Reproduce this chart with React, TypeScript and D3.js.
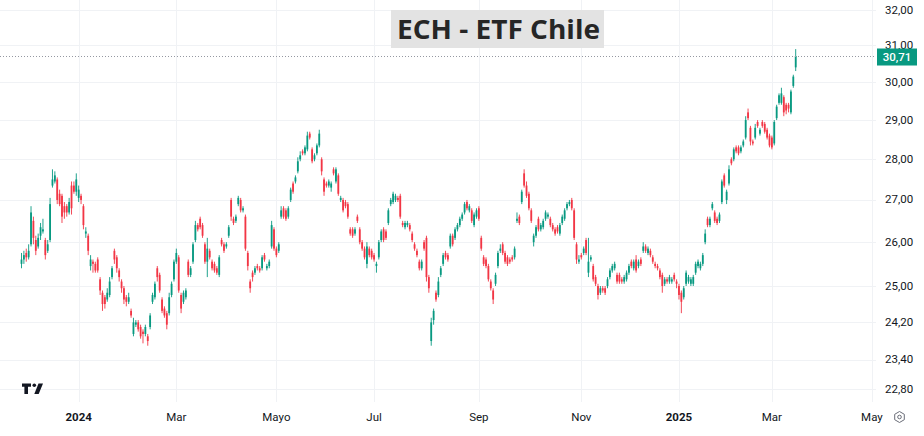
import React, { useRef, useEffect } from 'react';
import * as d3 from 'd3';

// daily candles [open, high, low, close], one array per month
const nov2023 = [
  [25.5, 25.75, 25.4, 25.6], [25.6, 25.8, 25.5, 25.7], [25.75, 25.85, 25.55, 25.65], [25.65, 25.95, 25.6, 25.8],
];
const dec2023 = [
  [25.95, 26.85, 25.9, 26.7], [26.5, 26.6, 25.95, 26.1], [26.05, 26.15, 25.7, 25.8], [25.9, 26.2, 25.85, 26.1],
  [26.15, 26.45, 26.05, 26.35], [26.25, 26.55, 26.2, 26.3], [26.05, 26.1, 25.6, 25.7], [25.8, 26.05, 25.75, 25.95],
  [26.05, 27.05, 26.0, 26.9], [27.35, 27.75, 27.3, 27.5], [27.45, 27.7, 27.4, 27.6], [27.5, 27.55, 26.9, 27.0],
  [27.15, 27.25, 26.85, 26.9], [27.1, 27.15, 26.45, 26.6], [26.85, 26.95, 26.55, 26.7], [26.85, 26.9, 26.6, 26.7],
  [26.7, 27.05, 26.65, 26.95], [27.35, 27.45, 26.65, 26.8], [27.35, 27.45, 27.15, 27.2], [27.2, 27.65, 27.1, 27.5],
];
const jan2024 = [
  [27.05, 27.35, 26.95, 27.25], [27.1, 27.15, 26.9, 27.0], [26.85, 26.9, 26.3, 26.4], [26.2, 26.35, 26.1, 26.25],
  [26.15, 26.2, 25.7, 25.8], [25.45, 25.7, 25.35, 25.6], [25.55, 25.6, 25.3, 25.5], [25.5, 25.55, 25.3, 25.35],
  [25.6, 25.65, 25.3, 25.35], [25.15, 25.2, 24.8, 24.9], [24.85, 24.9, 24.45, 24.6], [24.75, 24.8, 24.5, 24.6],
  [24.7, 24.95, 24.65, 24.85], [24.8, 25.2, 24.75, 25.1], [25.2, 25.45, 25.15, 25.4], [25.8, 25.85, 25.5, 25.6],
  [25.65, 25.7, 25.3, 25.4], [25.35, 25.4, 25.1, 25.2], [25.1, 25.15, 24.85, 24.95], [24.95, 25.0, 24.6, 24.7],
  [24.75, 24.8, 24.55, 24.65],
];
const feb2024 = [
  [24.65, 24.85, 24.6, 24.75], [24.45, 24.5, 24.3, 24.35], [23.95, 24.3, 23.9, 24.2], [24.15, 24.25, 24.1, 24.2],
  [24.2, 24.25, 24.0, 24.05], [24.1, 24.15, 23.85, 23.9], [24.0, 24.05, 23.75, 23.95], [23.95, 24.15, 23.9, 24.1],
  [23.9, 23.95, 23.7, 23.8], [24.1, 24.4, 24.05, 24.35], [24.65, 24.85, 24.6, 24.8], [24.75, 25.1, 24.7, 25.05],
  [25.4, 25.45, 25.1, 25.2], [25.25, 25.3, 24.85, 24.9], [24.7, 24.75, 24.4, 24.45], [24.5, 24.55, 24.3, 24.35],
  [24.4, 24.45, 24.05, 24.15], [24.4, 24.85, 24.35, 24.75], [24.8, 25.1, 24.75, 25.05], [25.15, 25.6, 25.1, 25.55],
];
const mar2024 = [
  [25.55, 25.85, 25.5, 25.75], [25.65, 25.7, 24.85, 24.9], [24.8, 24.85, 24.4, 24.5], [24.65, 24.9, 24.6, 24.85],
  [24.75, 24.95, 24.7, 24.9], [25.55, 25.6, 25.2, 25.25], [25.25, 25.45, 25.2, 25.4], [25.55, 26.0, 25.5, 25.95],
  [26.05, 26.5, 26.0, 26.4], [26.4, 26.45, 26.25, 26.3], [26.55, 26.6, 26.3, 26.35], [26.4, 26.45, 26.1, 26.15],
  [25.95, 26.0, 25.5, 25.55], [25.55, 26.1, 25.2, 25.85], [25.8, 25.85, 25.6, 25.65], [25.55, 25.6, 25.35, 25.4],
  [25.5, 25.55, 25.3, 25.35], [25.4, 25.45, 25.25, 25.3], [25.25, 25.7, 25.2, 25.65], [26.05, 26.1, 25.9, 25.95],
];
const apr2024 = [
  [25.95, 26.0, 25.75, 25.8], [25.9, 26.0, 25.85, 25.95], [26.15, 26.4, 26.1, 26.35], [27.0, 27.05, 26.5, 26.6],
  [26.55, 26.6, 26.4, 26.45], [26.5, 26.65, 26.45, 26.6], [26.9, 27.1, 26.85, 27.05], [27.0, 27.05, 26.7, 26.75],
  [26.75, 26.85, 26.7, 26.8], [26.6, 26.65, 25.8, 25.85], [25.75, 25.8, 25.35, 25.45], [25.1, 25.15, 24.85, 24.95],
  [25.3, 25.35, 25.1, 25.2], [25.3, 25.45, 25.25, 25.4], [25.45, 25.5, 25.35, 25.4], [25.4, 25.45, 25.3, 25.35],
  [25.4, 25.7, 25.35, 25.65], [25.7, 25.75, 25.55, 25.6], [25.4, 25.5, 25.35, 25.45], [25.45, 25.6, 25.4, 25.55],
  [25.9, 26.5, 25.85, 26.4], [26.3, 26.35, 25.8, 25.85],
];
const may2024 = [
  [25.85, 25.9, 25.65, 25.7], [25.8, 26.0, 25.75, 25.95], [26.6, 26.85, 26.55, 26.75], [26.8, 26.85, 26.55, 26.6],
  [26.75, 26.8, 26.5, 26.55], [26.6, 26.85, 26.55, 26.8], [27.0, 27.3, 26.95, 27.25], [27.4, 27.45, 27.15, 27.2],
  [27.45, 27.6, 27.4, 27.55], [27.7, 28.05, 27.65, 27.95], [28.0, 28.2, 27.95, 28.1], [28.2, 28.25, 28.1, 28.15],
  [28.15, 28.35, 28.1, 28.3], [28.25, 28.7, 28.2, 28.6], [28.65, 28.7, 28.5, 28.55], [28.25, 28.3, 27.9, 27.95],
  [28.0, 28.15, 27.95, 28.1], [28.15, 28.4, 28.1, 28.35], [28.35, 28.75, 28.3, 28.65], [28.0, 28.05, 27.6, 27.7],
  [27.5, 27.55, 27.1, 27.2], [27.4, 27.45, 27.3, 27.35],
];
const jun2024 = [
  [27.35, 27.5, 27.3, 27.45], [27.3, 27.45, 27.2, 27.4], [27.75, 27.8, 27.6, 27.65], [27.45, 27.8, 27.4, 27.75],
  [27.6, 27.65, 27.1, 27.15], [27.0, 27.1, 26.95, 27.05], [27.0, 27.05, 26.7, 26.75], [26.95, 27.0, 26.8, 26.85],
  [26.9, 26.95, 26.55, 26.6], [26.3, 26.35, 26.15, 26.2], [26.3, 26.35, 26.1, 26.15], [26.2, 26.35, 26.15, 26.3],
  [26.6, 26.65, 26.45, 26.5], [26.3, 26.35, 25.95, 26.0], [26.0, 26.05, 25.8, 25.85], [25.85, 25.9, 25.6, 25.65],
  [25.5, 26.0, 25.4, 25.9], [25.85, 25.9, 25.65, 25.7], [25.8, 25.85, 25.6, 25.65],
];
const jul2024 = [
  [25.7, 25.75, 25.55, 25.6], [25.45, 25.55, 25.3, 25.5], [25.65, 26.05, 25.6, 26.0], [26.05, 26.3, 26.0, 26.25],
  [26.3, 26.35, 26.0, 26.05], [26.25, 26.3, 26.05, 26.1], [26.45, 26.8, 26.4, 26.75], [26.9, 27.05, 26.85, 27.0],
  [26.95, 27.2, 26.9, 27.15], [27.0, 27.15, 26.95, 27.1], [27.05, 27.1, 26.95, 27.0], [27.1, 27.15, 26.55, 26.6],
  [26.45, 26.5, 26.35, 26.4], [26.35, 26.5, 26.3, 26.45], [26.4, 26.5, 26.35, 26.45], [26.4, 26.45, 26.25, 26.3],
  [26.2, 26.25, 26.0, 26.05], [25.95, 26.0, 25.8, 25.85], [25.8, 25.85, 25.65, 25.7], [25.55, 25.6, 25.35, 25.4],
  [25.4, 25.6, 25.35, 25.55], [26.0, 26.05, 25.8, 25.85],
];
const aug2024 = [
  [26.1, 26.15, 25.1, 25.2], [25.2, 25.25, 24.85, 24.95], [23.8, 24.3, 23.7, 24.2], [24.25, 24.5, 24.15, 24.45],
  [24.85, 24.9, 24.65, 24.7], [24.8, 25.2, 24.75, 25.1], [25.25, 25.45, 25.2, 25.4], [25.5, 25.75, 25.45, 25.7],
  [25.75, 25.8, 25.6, 25.65], [25.7, 25.75, 25.55, 25.6], [25.9, 26.2, 25.85, 26.15], [26.15, 26.2, 25.9, 25.95],
  [26.1, 26.35, 26.05, 26.3], [26.3, 26.45, 26.25, 26.4], [26.4, 26.6, 26.35, 26.55], [26.55, 26.7, 26.5, 26.65],
  [26.7, 26.95, 26.65, 26.9], [26.95, 27.0, 26.75, 26.8], [26.75, 26.9, 26.7, 26.85], [26.75, 26.8, 26.45, 26.5],
  [26.4, 26.7, 26.35, 26.65], [26.6, 26.8, 26.55, 26.75],
];
const sep2024 = [
  [26.8, 26.85, 26.5, 26.55], [26.1, 26.15, 25.8, 25.85], [25.65, 25.7, 25.45, 25.5], [25.6, 25.65, 25.4, 25.45],
  [25.45, 25.5, 25.1, 25.15], [25.1, 25.15, 24.9, 24.95], [24.9, 24.95, 24.6, 24.7], [25.05, 25.3, 25.0, 25.25],
  [25.45, 25.8, 25.4, 25.75], [25.8, 25.95, 25.75, 25.85], [25.95, 26.0, 25.7, 25.75], [25.75, 25.8, 25.5, 25.55],
  [25.65, 25.7, 25.45, 25.5], [25.6, 25.65, 25.5, 25.55], [25.65, 25.7, 25.55, 25.6], [25.65, 25.9, 25.6, 25.85],
  [26.5, 26.7, 26.45, 26.55], [26.6, 26.65, 26.4, 26.45], [26.95, 27.25, 26.9, 27.2], [27.65, 27.75, 27.3, 27.35],
];
const oct2024 = [
  [27.35, 27.45, 27.05, 27.1], [27.15, 27.2, 26.75, 26.8], [26.75, 26.8, 26.45, 26.5], [26.0, 26.2, 25.9, 26.15],
  [26.15, 26.4, 26.1, 26.35], [26.55, 26.6, 26.25, 26.3], [26.3, 26.45, 26.25, 26.4], [26.35, 26.55, 26.3, 26.5],
  [26.55, 26.75, 26.5, 26.7], [26.6, 26.7, 26.55, 26.65], [26.55, 26.6, 26.35, 26.4], [26.4, 26.45, 26.25, 26.3],
  [26.3, 26.35, 26.15, 26.2], [26.35, 26.4, 26.2, 26.25], [26.2, 26.45, 26.15, 26.4], [26.45, 26.65, 26.4, 26.6],
  [26.55, 26.8, 26.5, 26.75], [26.8, 26.95, 26.75, 26.9], [26.9, 27.0, 26.85, 26.95], [27.0, 27.05, 26.75, 26.8],
  [26.75, 26.8, 26.05, 26.1], [25.95, 26.0, 25.5, 25.6], [25.55, 25.7, 25.5, 25.6],
];
const nov2024 = [
  [25.7, 25.75, 25.6, 25.65], [25.75, 25.9, 25.7, 25.85], [26.05, 26.1, 25.7, 25.75], [25.3, 26.1, 25.2, 25.55],
  [25.6, 25.7, 25.55, 25.65], [25.45, 25.5, 25.1, 25.15], [25.2, 25.25, 25.0, 25.05], [25.0, 25.05, 24.7, 24.8],
  [24.85, 25.0, 24.8, 24.95], [24.95, 25.0, 24.85, 24.9], [24.95, 25.0, 24.8, 24.85], [25.0, 25.2, 24.95, 25.15],
  [25.2, 25.4, 25.15, 25.35], [25.35, 25.5, 25.3, 25.45], [25.4, 25.55, 25.35, 25.5], [25.25, 25.3, 25.05, 25.1],
  [25.25, 25.3, 25.05, 25.1], [25.15, 25.2, 25.05, 25.1], [25.1, 25.25, 25.05, 25.2], [25.15, 25.35, 25.1, 25.3],
];
const dec2024 = [
  [25.3, 25.5, 25.25, 25.45], [25.55, 25.6, 25.4, 25.45], [25.4, 25.6, 25.35, 25.55], [25.6, 25.7, 25.3, 25.35],
  [25.45, 25.6, 25.4, 25.55], [25.6, 25.65, 25.45, 25.5], [25.8, 26.0, 25.75, 25.9], [25.9, 25.95, 25.75, 25.8],
  [25.75, 25.9, 25.7, 25.85], [25.8, 25.85, 25.65, 25.7], [25.65, 25.7, 25.5, 25.55], [25.5, 25.55, 25.4, 25.45],
  [25.45, 25.5, 25.35, 25.4], [25.35, 25.4, 25.15, 25.2], [25.25, 25.3, 24.85, 25.0], [25.05, 25.2, 25.0, 25.15],
  [25.15, 25.2, 25.05, 25.1], [25.1, 25.25, 25.05, 25.2], [25.1, 25.2, 25.05, 25.15], [25.25, 25.3, 25.1, 25.15],
  [25.1, 25.15, 24.95, 25.05],
];
const jan2025 = [
  [25.0, 25.05, 24.7, 24.8], [24.85, 24.9, 24.4, 24.65], [24.75, 25.0, 24.7, 24.95], [25.05, 25.35, 25.0, 25.3],
  [25.1, 25.25, 25.05, 25.2], [25.05, 25.2, 25.0, 25.15], [25.05, 25.25, 25.0, 25.2], [25.3, 25.55, 25.25, 25.5],
  [25.45, 25.6, 25.4, 25.55], [25.4, 25.55, 25.35, 25.5], [25.5, 25.75, 25.45, 25.7], [26.0, 26.3, 25.95, 26.2],
  [26.55, 26.6, 26.35, 26.4], [26.4, 26.6, 26.35, 26.55], [26.8, 26.95, 26.75, 26.9], [26.7, 26.75, 26.45, 26.5],
  [26.55, 26.6, 26.4, 26.45], [26.5, 26.7, 26.45, 26.65], [26.95, 27.5, 26.9, 27.45], [27.6, 27.65, 27.3, 27.35],
];
const feb2025 = [
  [27.0, 27.25, 26.9, 27.2], [27.4, 27.85, 27.35, 27.75], [28.0, 28.05, 27.85, 27.9], [28.0, 28.3, 27.95, 28.25],
  [28.3, 28.35, 28.15, 28.2], [28.3, 28.35, 28.1, 28.15], [28.2, 28.35, 28.15, 28.3], [28.35, 28.5, 28.3, 28.45],
  [28.55, 29.1, 28.5, 29.0], [29.2, 29.3, 29.0, 29.05], [28.8, 28.85, 28.35, 28.45], [28.45, 28.5, 28.35, 28.4],
  [28.55, 28.9, 28.5, 28.8], [28.95, 29.0, 28.8, 28.85], [28.65, 28.8, 28.6, 28.75], [28.95, 29.0, 28.8, 28.85],
  [28.9, 28.95, 28.65, 28.7], [28.75, 28.8, 28.5, 28.55], [28.6, 28.65, 28.3, 28.35],
];
const mar2025 = [
  [28.55, 28.6, 28.25, 28.3], [28.4, 29.0, 28.35, 28.95], [29.05, 29.4, 29.0, 29.35], [29.45, 29.7, 29.4, 29.65],
  [29.45, 29.85, 29.4, 29.7], [29.6, 29.65, 29.1, 29.2], [29.4, 29.45, 29.15, 29.25], [29.4, 29.45, 29.2, 29.3],
  [29.2, 29.8, 29.15, 29.75], [29.9, 30.2, 29.85, 30.15], [30.4, 30.9, 30.3, 30.71],
];

const monthBars = [
  nov2023, dec2023, jan2024, feb2024, mar2024, apr2024, may2024, jun2024, jul2024,
  aug2024, sep2024, oct2024, nov2024, dec2024, jan2025, feb2025, mar2025,
];
// trading sessions per month on the time axis (Nov 2023 partly shown, Apr 2025 ahead)
const sessions = [4, 20, 21, 20, 20, 22, 22, 19, 22, 22, 20, 23, 20, 21, 20, 19, 21, 21, 21];
const monthLabels = ['', '', '2024', '', 'Mar', '', 'Mayo', '', 'Jul', '', 'Sep', '', 'Nov', '', '2025', '', 'Mar', '', 'May'];
const yearLabels = ['2024', '2025'];
const priceTicks = [22.8, 23.4, 24.2, 25, 26, 27, 28, 29, 30, 31, 32];
const title = 'ECH - ETF Chile';

const UP = '#089981';
const DOWN = '#f23645';
const FONT = 'Roboto, "DejaVu Sans", sans-serif';

const Chart = () => {
  const ref = useRef(null);

  useEffect(() => {
    if (!ref.current) return;
    const svg = d3.select(ref.current);
    svg.selectAll('*').remove();

    const width = 924;
    const height = 436;
    const plotRight = 876;
    const plotBottom = 402;

    const bars = d3.merge(monthBars as number[][][]);
    const starts = d3.cumsum([0, ...sessions]);

    const x = d3.scaleLinear().domain([0, bars.length - 1]).range([21.5, 795.7]);
    const y = d3.scaleLog().domain([22.8, 32]).range([389, 10]);
    const fmt = (v: number) => d3.format('.2f')(v).replace('.', ',');

    svg.append('rect').attr('width', width).attr('height', height).attr('fill', '#ffffff');

    // grid
    const grid = svg.append('g').attr('stroke', '#f0f2f5').attr('stroke-width', 1);
    grid.selectAll('line.h').data(priceTicks).enter().append('line')
      .attr('x1', 0).attr('x2', plotRight)
      .attr('y1', (d) => Math.round(y(d)) + 0.5).attr('y2', (d) => Math.round(y(d)) + 0.5);
    const xTicks = monthLabels
      .map((label, i) => ({ label, idx: starts[i] }))
      .filter((d) => d.label !== '');
    grid.selectAll('line.v').data(xTicks).enter().append('line')
      .attr('x1', (d) => Math.round(x(d.idx)) + 0.5).attr('x2', (d) => Math.round(x(d.idx)) + 0.5)
      .attr('y1', 0).attr('y2', plotBottom);

    // candles
    const color = (d: number[]) => (d[3] >= d[0] ? UP : DOWN);
    svg.append('g').selectAll('line').data(bars).enter().append('line')
      .attr('x1', (d, i) => x(i)).attr('x2', (d, i) => x(i))
      .attr('y1', (d) => y(d[1])).attr('y2', (d) => y(d[2]))
      .attr('stroke', color).attr('stroke-width', 0.9);
    const bw = 1.8;
    svg.append('g').selectAll('rect').data(bars).enter().append('rect')
      .attr('x', (d, i) => x(i) - bw / 2)
      .attr('y', (d) => y(Math.max(d[0], d[3])))
      .attr('width', bw)
      .attr('height', (d) => Math.max(1, Math.abs(y(d[0]) - y(d[3]))))
      .attr('fill', color);

    // last price line
    const last = bars[bars.length - 1][3];
    svg.append('line')
      .attr('x1', 0).attr('x2', plotRight)
      .attr('y1', Math.round(y(last)) + 0.5).attr('y2', Math.round(y(last)) + 0.5)
      .attr('stroke', '#9598a1').attr('stroke-width', 1).attr('stroke-dasharray', '1,2');

    // price axis
    svg.append('g').selectAll('text').data(priceTicks).enter().append('text')
      .text(fmt)
      .attr('x', 885).attr('y', (d) => y(d) + 3.5)
      .attr('font-size', 11.5).attr('fill', '#131722')
      .style('font-family', FONT);

    svg.append('rect')
      .attr('x', 877).attr('y', y(last) - 7.5).attr('width', 40).attr('height', 17)
      .attr('fill', UP);
    svg.append('text')
      .text(fmt(last))
      .attr('x', 897).attr('y', y(last) + 5)
      .attr('text-anchor', 'middle').attr('font-size', 11.5).attr('font-weight', 500).attr('fill', '#ffffff')
      .style('font-family', FONT);

    // time axis
    svg.append('g').selectAll('text').data(xTicks).enter().append('text')
      .text((d) => d.label)
      .attr('x', (d) => x(d.idx)).attr('y', 421)
      .attr('text-anchor', 'middle').attr('font-size', 11.5).attr('fill', '#131722')
      .attr('font-weight', (d) => (yearLabels.includes(d.label) ? 700 : 400))
      .style('font-family', FONT);

    // title
    svg.append('rect')
      .attr('x', 391).attr('y', 10).attr('width', 213).attr('height', 38)
      .attr('fill', '#e3e3e3');
    svg.append('text')
      .text(title)
      .attr('x', 397).attr('y', 39)
      .attr('textLength', 203).attr('lengthAdjust', 'spacingAndGlyphs')
      .attr('font-size', 27).attr('font-weight', 700).attr('fill', '#262626')
      .style('font-family', '"Open Sans", "DejaVu Sans", sans-serif');

    // logo
    const logo = svg.append('g').attr('fill', '#131722');
    logo.append('path').attr('d', 'M22,383.5h9v3.2h-3v7.3h-3.6v-7.3h-2.4z');
    logo.append('circle').attr('cx', 34.3).attr('cy', 385.2).attr('r', 1.8);
    logo.append('path').attr('d', 'M38.5,383.5h4.5l-4.3,10.5h-4.4z');

    // settings icon
    const gear = svg.append('g').attr('fill', 'none').attr('stroke', '#6a6d78').attr('stroke-width', 1);
    gear.append('path').attr('d', 'M899.5,411.5l4.8,2.8v5.4l-4.8,2.8l-4.8,-2.8v-5.4z');
    gear.append('circle').attr('cx', 899.5).attr('cy', 417).attr('r', 1.8);
  }, []);

  return <svg ref={ref} width={924} height={436} style={{ position: 'absolute', left: 0, top: 0 }} />;
};

export default function App() {
  return <Chart />;
}
